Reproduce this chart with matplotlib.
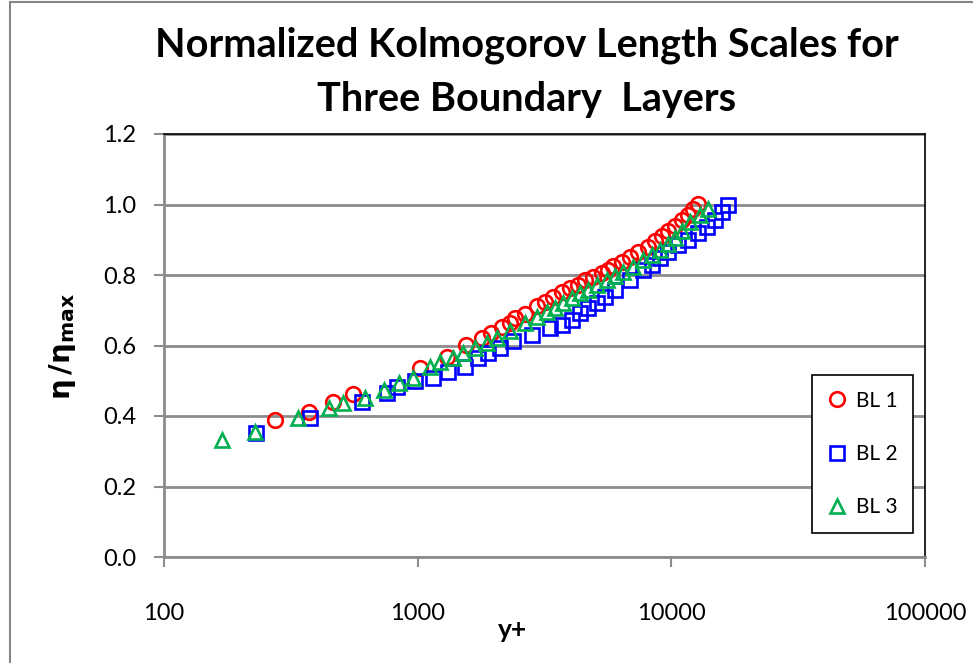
import matplotlib
matplotlib.use("Agg")
import matplotlib.pyplot as plt
from matplotlib.patches import Rectangle

# values (y+ , eta/eta_max)
bl1_y = [274, 373, 463, 556, 1021, 1303, 1549, 1791, 1944, 2148, 2311, 2417,
         2648, 2951, 3175, 3414, 3705, 3985, 4285, 4563, 4906, 5325, 5623,
         5888, 6387, 6867, 7385, 8086, 8610, 9180, 9700, 10330, 11010, 11620,
         12160, 12730]
bl1_eta = [0.389, 0.411, 0.440, 0.462, 0.536, 0.567, 0.601, 0.621, 0.635,
           0.652, 0.664, 0.678, 0.689, 0.712, 0.723, 0.738, 0.752, 0.763,
           0.772, 0.786, 0.794, 0.806, 0.814, 0.826, 0.837, 0.851, 0.865,
           0.879, 0.896, 0.911, 0.925, 0.939, 0.956, 0.970, 0.987, 1.001]

bl2_y = [230, 376, 603, 756, 829, 975, 1148, 1316, 1536, 1728, 1893, 2110,
         2375, 2823, 3323, 3705, 4057, 4363, 4693, 5090, 5474, 5994, 6873,
         7730, 8390, 9020, 9700, 10620, 11620, 12730, 13810, 14840, 15820,
         16710]
bl2_eta = [0.352, 0.394, 0.440, 0.465, 0.482, 0.499, 0.508, 0.525, 0.539,
           0.565, 0.579, 0.593, 0.613, 0.630, 0.650, 0.658, 0.672, 0.692,
           0.706, 0.721, 0.738, 0.757, 0.786, 0.814, 0.828, 0.848, 0.865,
           0.885, 0.899, 0.919, 0.936, 0.956, 0.979, 0.999]

bl3_y = [169, 228, 337, 447, 508, 619, 736, 845, 955, 1118, 1224, 1378, 1509,
         1683, 1876, 2055, 2311, 2648, 2951, 3234, 3476, 3740, 4057, 4363,
         4693, 5090, 5575, 5994, 6445, 7063, 7730, 8390, 9020, 9700, 10330,
         11010, 11830, 12960, 13930]
bl3_eta = [0.332, 0.355, 0.394, 0.423, 0.437, 0.451, 0.474, 0.494, 0.508,
           0.539, 0.553, 0.565, 0.579, 0.593, 0.607, 0.621, 0.641, 0.664,
           0.681, 0.695, 0.706, 0.721, 0.735, 0.749, 0.757, 0.772, 0.786,
           0.797, 0.809, 0.823, 0.843, 0.857, 0.871, 0.888, 0.905, 0.925,
           0.950, 0.970, 0.987]

y_ticks = [0.0, 0.2, 0.4, 0.6, 0.8, 1.0, 1.2]
x_ticks = [100, 1000, 10000, 100000]

plt.rcParams['font.family'] = ['Lato', 'DejaVu Sans']
plt.rcParams['mathtext.fontset'] = 'dejavusans'

W, H = 973, 663
fig = plt.figure(figsize=(W / 100, H / 100), dpi=100)
ax = fig.add_axes([164 / W, 1 - 557 / H, (925 - 164) / W, (557 - 134) / H])

# outer chart frame
fig.patches.append(Rectangle((10 / W, -0.05), 1.2, 1.05 - 2 / H,
                             transform=fig.transFigure, fill=False,
                             edgecolor='#868686', linewidth=1.5))

ms = 10.5
ax.plot(bl1_y, bl1_eta, 'o', ms=ms, mfc='none', mec='#ff0000', mew=1.9, label='BL 1')
ax.plot(bl2_y, bl2_eta, 's', ms=ms - 0.5, mfc='none', mec='#0000ff', mew=1.9, label='BL 2')
ax.plot(bl3_y, bl3_eta, '^', ms=ms, mfc='none', mec='#00b050', mew=1.9, label='BL 3')

ax.set_xscale('log')
ax.set_xlim(100, 100000)
ax.set_ylim(0, 1.2)
ax.set_xticks(x_ticks)
ax.set_xticklabels([str(v) for v in x_ticks])
ax.xaxis.set_minor_locator(matplotlib.ticker.NullLocator())
ax.set_yticks(y_ticks)
ax.set_yticklabels(['%.1f' % v for v in y_ticks])
ax.yaxis.grid(True, color='#8c8c8c', linewidth=2)
ax.set_axisbelow(True)

for s in ['top', 'right']:
    ax.spines[s].set_color('black')
    ax.spines[s].set_linewidth(1.2)
for s in ['left', 'bottom']:
    ax.spines[s].set_color('#8c8c8c')
    ax.spines[s].set_linewidth(2)
ax.tick_params(axis='both', direction='out', color='#8c8c8c', width=1.5,
               length=7, labelsize=17)
ax.tick_params(axis='x', pad=26)
ax.tick_params(axis='y', pad=13)

fig.text(527 / W, 1 - 45 / H, 'Normalized Kolmogorov Length Scales for',
         ha='center', va='center', fontsize=28.5, fontweight='bold')
fig.text(527 / W, 1 - 100 / H, 'Three Boundary  Layers',
         ha='center', va='center', fontsize=28.5, fontweight='bold')
fig.text(513 / W, 1 - 630 / H, 'y+', ha='center', va='center',
         fontsize=19, fontweight='bold')
fig.text(62 / W, 1 - 347 / H, r'$\mathbf{\eta\,/\eta_{max}}$', ha='center',
         va='center', rotation=90, fontsize=21)

leg = ax.legend(loc='upper left', bbox_to_anchor=(812 / W, 1 - 375 / H),
                bbox_transform=fig.transFigure, fontsize=15, frameon=True,
                fancybox=False, edgecolor='black', framealpha=1,
                labelspacing=1.6, handlelength=0.9, handletextpad=0.45,
                borderpad=0.75, borderaxespad=0)
leg.get_frame().set_linewidth(1.2)

fig.savefig('out.png', dpi=100)
